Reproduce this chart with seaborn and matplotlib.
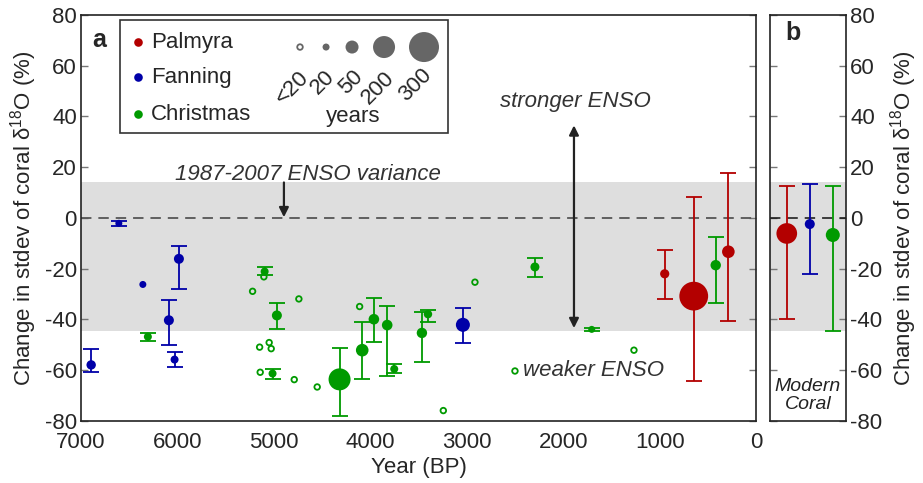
import numpy as np
import pandas as pd
import matplotlib
matplotlib.use('Agg')
import matplotlib.pyplot as plt
import seaborn as sns
from matplotlib.patches import Rectangle

sns.set_theme(style='white')
plt.rcParams['font.family'] = ['Liberation Sans', 'DejaVu Sans']
plt.rcParams['mathtext.fontset'] = 'custom'
plt.rcParams['mathtext.rm'] = 'Liberation Sans'
plt.rcParams['mathtext.it'] = 'Liberation Sans:italic'
plt.rcParams['lines.scale_dashes'] = False
plt.rcParams['axes.unicode_minus'] = False

# --- data ---
sites = ['Palmyra', 'Fanning', 'Christmas']
site_colors = {'Palmyra': '#b30000', 'Fanning': '#0000a8', 'Christmas': '#009a00'}

palmyra_age = [947, 646, 287]
palmyra_val = [-22.0, -30.8, -13.3]
palmyra_lo = [-32.1, -64.1, -40.5]
palmyra_hi = [-12.6, 8.2, 17.6]
palmyra_len = [31, 285, 48]

fanning_age = [6895, 6608, 6359, 6089, 6030, 5985, 3040]
fanning_val = [-57.9, -2.1, -26.2, -40.3, -55.8, -16.1, -42.1]
fanning_lo = [-60.5, -3.0, np.nan, -50.1, -58.7, -27.8, -49.3]
fanning_hi = [-51.6, -1.0, np.nan, -32.4, -53.0, -10.9, -35.4]
fanning_len = [32, 20, 20, 35, 25, 35, 67]

christmas_age = [6307, 5096, 5014, 4969, 4319, 4084, 3963, 3825, 3752, 3465, 3402, 2293, 1704, 418]
christmas_val = [-46.8, -21.1, -61.3, -38.4, -63.6, -52.1, -39.9, -42.2, -59.5, -45.3, -37.9, -19.3, -43.9, -18.6]
christmas_lo = [-48.6, -22.6, -63.3, -43.7, -78.0, -63.3, -49.0, -62.2, -60.9, -56.9, -41.1, -23.4, -44.6, -33.6]
christmas_hi = [-45.3, -19.5, -59.6, -33.4, -51.2, -40.9, -31.6, -34.5, -57.5, -37.0, -36.3, -15.7, -43.2, -7.6]
christmas_len = [25, 25, 25, 35, 200, 48, 38, 38, 25, 37, 27, 30, 20, 37]

# short (<20 yr) Christmas records, open circles
short_age = [5221, 5148, 5142, 5104, 5049, 5028, 4789, 4741, 4551, 4111, 3243, 2915, 2500, 1266]
short_val = [-28.9, -50.9, -60.8, -23.2, -49.1, -51.5, -63.7, -31.9, -66.6, -34.9, -75.9, -25.3, -60.3, -52.1]

# modern coral (panel b), order: Palmyra, Fanning, Christmas
modern_val = [-6.1, -2.4, -6.7]
modern_lo = [-39.9, -22.1, -44.5]
modern_hi = [12.6, 13.5, 12.6]
modern_len = [178, 35, 67]

band_lo, band_hi = -44.5, 14.0

# record length -> marker area (matches the size key)
key_years = [20, 50, 200, 300]
key_diam = [7, 13, 22, 30]


def marker_area(length):
    d = np.interp(length, key_years, key_diam)
    return (d * 0.72) ** 2


frames = []
for name, age, val, lo, hi, ln in [
        ('Palmyra', palmyra_age, palmyra_val, palmyra_lo, palmyra_hi, palmyra_len),
        ('Fanning', fanning_age, fanning_val, fanning_lo, fanning_hi, fanning_len),
        ('Christmas', christmas_age, christmas_val, christmas_lo, christmas_hi, christmas_len)]:
    frames.append(pd.DataFrame({'site': name, 'age': age, 'val': val,
                                'lo': lo, 'hi': hi, 'length': ln}))
df = pd.concat(frames, ignore_index=True)

modern = pd.DataFrame({'site': sites, 'pos': [1, 2, 3], 'val': modern_val,
                       'lo': modern_lo, 'hi': modern_hi, 'length': modern_len})

fig = plt.figure(figsize=(9.23, 4.83), dpi=100)
ax1 = fig.add_axes([0.0878, 0.1284, 0.7313, 0.8406])
ax2 = fig.add_axes([0.8342, 0.1284, 0.0823, 0.8406])

for ax in (ax1, ax2):
    ax.axhspan(band_lo, band_hi, color='#dedede', lw=0, zorder=0)
ax1.axhline(0, color='#555555', lw=1.3, dashes=(7.5, 5), zorder=1)
ax2.axhline(0, color='#111111', lw=1.1, dashes=(7.5, 5), zorder=1)

# error bars
for name in sites:
    sub = df[df.site == name]
    ax1.errorbar(sub.age, sub.val, yerr=[sub.val - sub.lo, sub.hi - sub.val],
                 fmt='none', ecolor=site_colors[name], elinewidth=1.3,
                 capsize=5.5, capthick=1.3, zorder=2)
    m = modern[modern.site == name]
    ax2.errorbar(m.pos, m.val, yerr=[m.val - m.lo, m.hi - m.val],
                 fmt='none', ecolor=site_colors[name], elinewidth=1.3,
                 capsize=5.5, capthick=1.3, zorder=2)

all_len = sorted(set(df.length) | set(modern.length))
size_map = {L: marker_area(L) for L in all_len}

sns.scatterplot(data=df, x='age', y='val', hue='site', palette=site_colors,
                size='length', sizes=size_map, linewidth=0, legend=False,
                ax=ax1, zorder=3)
sns.scatterplot(x=short_age, y=short_val, s=16, facecolors='none',
                edgecolor=site_colors['Christmas'], linewidth=1.3, ax=ax1, zorder=3)
sns.scatterplot(data=modern, x='pos', y='val', hue='site', palette=site_colors,
                size='length', sizes=size_map, linewidth=0, legend=False,
                ax=ax2, zorder=3)

# axes styling
ax1.set_xlim(7000, 0)
ax1.set_ylim(-80, 80)
ax1.set_xticks(np.arange(7000, -1, -1000))
ax1.set_yticks(np.arange(-80, 81, 20))
ax1.tick_params(axis='y', direction='in', length=5, width=1, color='#777777',
                left=True, right=True, labelsize=16, pad=3)
ax1.tick_params(axis='x', length=0, labelsize=16, pad=8)
ax1.set_xlabel('Year (BP)', fontsize=16, labelpad=3)
ylab = r'Change in stdev of coral δ$^{18}$O (%)'
ax1.set_ylabel(ylab, fontsize=16, labelpad=4)

ax2.set_xlim(0.27, 3.57)
ax2.set_ylim(-80, 80)
ax2.set_xticks([])
ax2.set_yticks(np.arange(-80, 81, 20))
ax2.tick_params(axis='y', direction='in', length=5, width=1, color='#777777',
                left=True, right=True, labelleft=False, labelright=True,
                labelsize=16, pad=3)
ax2.yaxis.set_label_position('right')
ax2.set_ylabel(ylab, fontsize=16, labelpad=4)
ax2.set_xlabel('')

for ax in (ax1, ax2):
    for sp in ax.spines.values():
        sp.set_color('#222222')
        sp.set_linewidth(1.2)

# annotations
ax1.text(0.0163, 0.938, 'a', transform=ax1.transAxes, fontsize=18,
         fontweight='bold', ha='left', va='center')
ax2.text(0.197, 0.956, 'b', transform=ax2.transAxes, fontsize=18,
         fontweight='bold', ha='left', va='center')
ax2.text(0.5, 0.062, 'Modern\nCoral', transform=ax2.transAxes, fontsize=14,
         style='italic', ha='center', va='center', color='#222222', linespacing=1.1)

ax1.text(4650, 17.0, '1987-2007 ENSO variance', fontsize=16, style='italic',
         color='#333333', ha='center', va='center')
ax1.annotate('', xy=(4896, 0.3), xytext=(4896, 14),
             arrowprops=dict(arrowstyle='-|>', color='#222222', lw=1.6,
                             mutation_scale=14, shrinkA=0, shrinkB=0))
ax1.text(1878, 45.8, 'stronger ENSO', fontsize=16, style='italic',
         color='#333333', ha='center', va='center')
ax1.annotate('', xy=(1888, -43.4), xytext=(1888, 36.5),
             arrowprops=dict(arrowstyle='<|-|>', color='#222222', lw=1.6,
                             mutation_scale=14, shrinkA=0, shrinkB=0))
ax1.text(1690, -60, 'weaker ENSO', fontsize=16, style='italic',
         color='#333333', ha='center', va='center')

# legend box (site colours + record length key)
ax1.add_patch(Rectangle((0.0578, 0.709), 0.4859, 0.279, transform=ax1.transAxes,
                        facecolor='white', edgecolor='#333333', lw=1.2, zorder=5))
for name, yf in zip(sites, [0.933, 0.847, 0.756]):
    ax1.scatter([0.0844], [yf], s=marker_area(28), color=site_colors[name],
                transform=ax1.transAxes, zorder=6, linewidth=0)
    ax1.text(0.1037, yf, name, transform=ax1.transAxes, fontsize=16,
             ha='left', va='center', zorder=6)

key_labels = ['<20', '20', '50', '200', '300']
key_x = [0.3244, 0.3630, 0.4015, 0.4489, 0.5081]
key_lab_x = [0.3126, 0.3585, 0.4000, 0.4400, 0.4948]
key_lab_y = [0.820, 0.833, 0.835, 0.820, 0.828]
ax1.scatter([key_x[0]], [0.921], s=16, facecolors='none', edgecolors='#666666',
            linewidth=1.3, transform=ax1.transAxes, zorder=6)
ax1.scatter(key_x[1:], [0.921] * 4, s=[marker_area(v) for v in key_years],
            color='#666666', linewidth=0, transform=ax1.transAxes, zorder=6)
for lab, xf, yf in zip(key_labels, key_lab_x, key_lab_y):
    ax1.text(xf, yf, lab, transform=ax1.transAxes, fontsize=16, rotation=45,
             ha='center', va='center', zorder=6)
ax1.text(0.403, 0.749, 'years', transform=ax1.transAxes, fontsize=16,
         ha='center', va='center', zorder=6)

fig.savefig('out.png', dpi=100)
